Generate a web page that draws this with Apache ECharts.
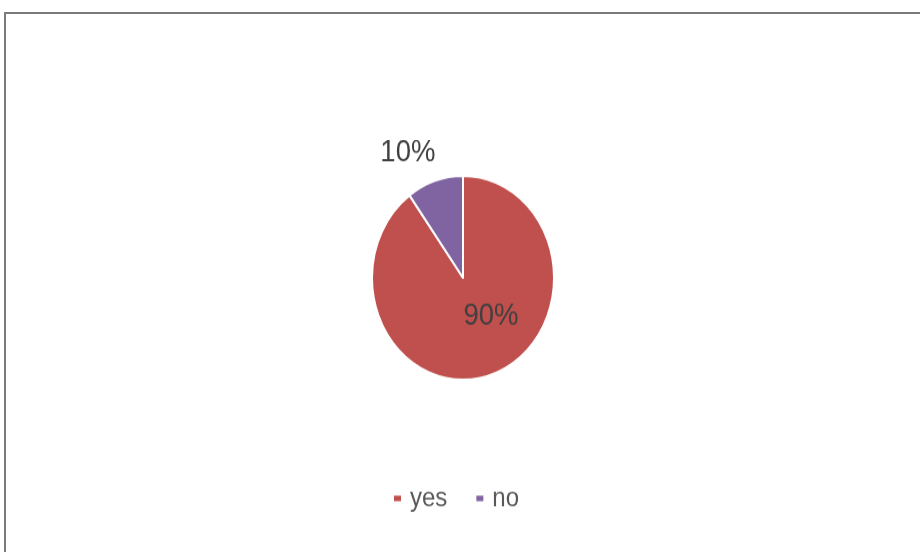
<!DOCTYPE html>
<html>
<head>
<meta charset="utf-8">
<script src="https://cdn.jsdelivr.net/npm/echarts@6/dist/echarts.min.js"></script>
<style>
  html, body { margin: 0; padding: 0; background: #ffffff; overflow: hidden; }
  #frame {
    position: absolute; left: 4px; top: 12px; width: 930px; height: 560px;
    border-top: 2px solid #7a7a7a; border-left: 2px solid #7a7a7a;
    box-sizing: border-box;
  }
  #chart {
    position: absolute; left: 0; top: 0; width: 920px; height: 493px;
    transform: scaleY(1.12); transform-origin: 0 0;
  }
</style>
</head>
<body>
<div id="frame"></div>
<div id="chart"></div>
<script>
// Survey answers, in percent
const categories = ['yes', 'no'];
const values = [90, 10];
const colors = ['#C0504D', '#8064A2'];

const chart = echarts.init(document.getElementById('chart'), null, { renderer: 'canvas' });

const data = categories.map((name, i) => ({
  name: name,
  value: values[i],
  itemStyle: { color: colors[i] },
  label: { position: i === 0 ? 'inside' : 'outside' }
}));

// nudge the percentage labels to sit like the original layout
const labelShift = [[13, -12], [8, -17]];

chart.setOption({
  animation: false,
  backgroundColor: 'transparent',
  legend: {
    data: categories,
    left: 392,
    top: 433,
    padding: 0,
    icon: 'rect',
    itemWidth: 9,
    itemHeight: 7,
    itemGap: 27,
    textStyle: {
      fontFamily: 'Liberation Sans, Arial, sans-serif',
      fontSize: 24,
      color: '#595959',
      padding: [0, 0, 0, 3]
    }
  },
  series: [{
    type: 'pie',
    center: [463, 248],
    radius: [0, 91],
    startAngle: 90,
    clockwise: true,
    silent: true,
    itemStyle: { borderColor: '#ffffff', borderWidth: 2 },
    label: {
      formatter: '{d}%',
      fontFamily: 'Liberation Sans, Arial, sans-serif',
      fontSize: 27.5,
      color: '#404040'
    },
    labelLine: { show: false, length: 8, length2: 0 },
    labelLayout: function (params) {
      const s = labelShift[params.dataIndex];
      return { dx: s[0], dy: s[1] };
    },
    data: data
  }]
});
</script>
</body>
</html>
